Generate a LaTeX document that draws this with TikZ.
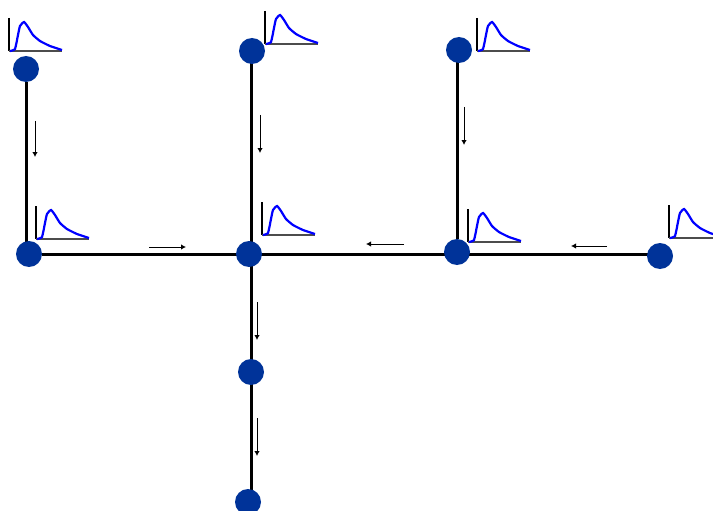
\documentclass[tikz,border=0pt]{standalone}
\usepackage{tikz}
\usetikzlibrary{arrows.meta, backgrounds}
\definecolor{nodeblue}{RGB}{0,51,153}

\begin{document}
\begin{tikzpicture}[
    x=1pt, y=-1pt,
    junction/.style={circle, fill=nodeblue, inner sep=0pt, minimum size=26pt},
    pipe/.style={line width=3pt, black},
    flow/.style={-{Latex[length=5pt, width=5.5pt]}, line width=1pt},
    pulse/.pic={
        \draw[line width=2pt] (0,-33) -- (0,0);
        \draw[line width=1.2pt, black!70] (0,0) -- (53,0);
        \draw[line width=2.2pt, blue] plot[smooth, tension=0.3] coordinates {(1,0) (6,-2) (9,-16) (11,-25) (15,-29) (19,-24) (24,-16) (31,-10) (41,-5) (53,-1)};
    }
]

\clip (0,0) rectangle (713,511);

% Junctions
\node[junction] (top1) at (26,69) {};
\node[junction] (left) at (29,254) {};
\node[junction] (top2) at (252,51) {};
\node[junction] (centre) at (249,254) {};
\node[junction] (top3) at (459,50) {};
\node[junction] (mid) at (457,252) {};
\node[junction] (right) at (660,256) {};
\node[junction] (low1) at (251,372) {};
\node[junction] (low2) at (248,502) {};

% Pipes
\begin{scope}[on background layer]
\draw[pipe] (top1) -- (top1 |- left);
\draw[pipe] (low1 |- top2) -- (low1 |- low2);
\draw[pipe] (mid |- top3) -- (mid);
\draw[pipe] (left) -- (left -| right);
\end{scope}

% Pulses above the junctions
\pic at (9,51) {pulse};
\pic at (36,239) {pulse};
\pic at (265,44) {pulse};
\pic at (262,235) {pulse};
\pic at (477,51) {pulse};
\pic at (468,242) {pulse};
\pic at (669,238) {pulse};

% Flow directions
\coordinate (f1a) at (35,121); \coordinate (f1b) at (35,157);
\coordinate (f2a) at (149,247); \coordinate (f2b) at (186,247);
\coordinate (f3a) at (260,115); \coordinate (f3b) at (260,153);
\coordinate (f4a) at (404,244); \coordinate (f4b) at (366,244);
\coordinate (f5a) at (464,107); \coordinate (f5b) at (464,145);
\coordinate (f6a) at (607,246); \coordinate (f6b) at (571,246);
\coordinate (f7a) at (257,302); \coordinate (f7b) at (257,340);
\coordinate (f8a) at (257,418); \coordinate (f8b) at (257,456);
\draw[flow] (f1a) -- (f1b);
\draw[flow] (f2a) -- (f2b);
\draw[flow] (f3a) -- (f3b);
\draw[flow] (f4a) -- (f4b);
\draw[flow] (f5a) -- (f5b);
\draw[flow] (f6a) -- (f6b);
\draw[flow] (f7a) -- (f7b);
\draw[flow] (f8a) -- (f8b);

\end{tikzpicture}
\end{document}
